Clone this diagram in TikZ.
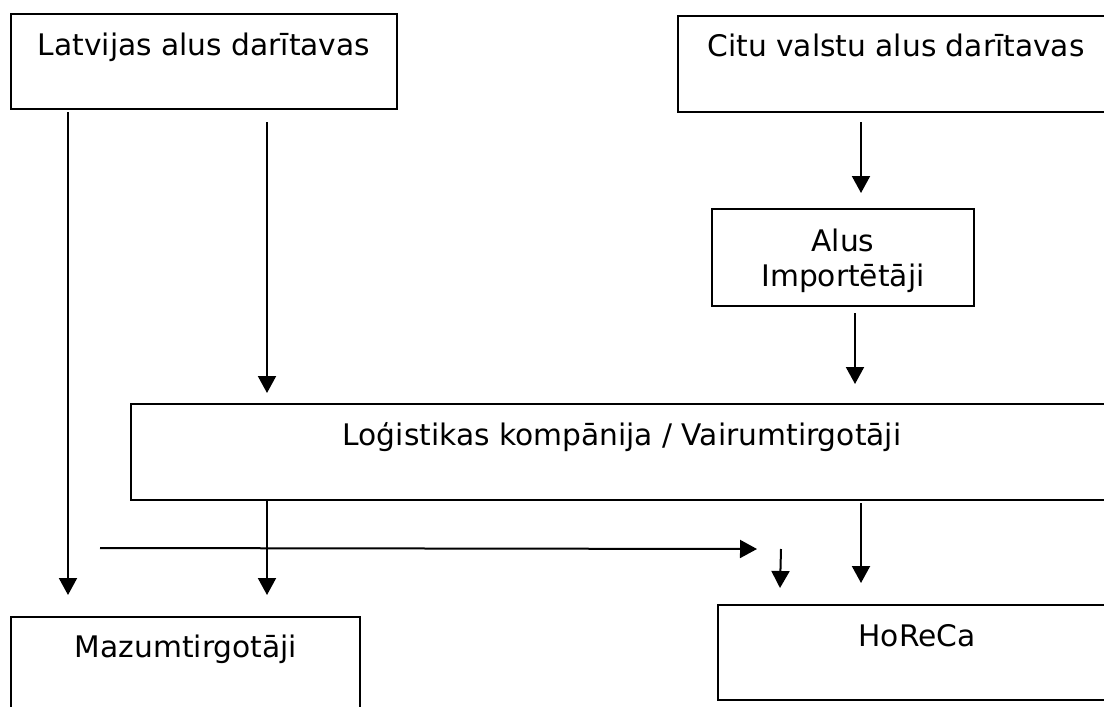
\documentclass[tikz,border=0pt]{standalone}
\usepackage{fontspec}
\setmainfont{DejaVu Sans}
\usetikzlibrary{arrows.meta}
\begin{document}
\begin{tikzpicture}[x=1pt,y=-1pt,
  box/.style={draw, line width=2.1pt, inner sep=0pt, outer sep=0pt},
  txt/.style={font=\fontsize{29.7}{35}\selectfont, inner sep=0pt, anchor=base},
  arr/.style={-{Triangle[length=17pt,width=18pt]}, line width=2pt}]
\useasboundingbox (0,0) rectangle (1104,707);
\clip (0,0) rectangle (1104,707);
\fill[white] (0,0) rectangle (1104,707);
% boxes
\node[box, minimum width=386pt, minimum height=95pt] (lat) at (204,61.5) {};
\node[txt] (latt) at (204,55) {Latvijas alus darītavas};
\node[box, minimum width=436pt, minimum height=96pt] (citu) at (896,64) {};
\node[txt] (situt) at (896,56) {Citu valstu alus darītavas};
\node[box, minimum width=262pt, minimum height=97pt] (alus) at (843,257.5) {};
\node[txt] (alust1) at (843,251) {Alus};
\node[txt] (alust2) at (843,286) {Importētāji};
\node[box, minimum width=982pt, minimum height=96pt] (log) at (622,452) {};
\node[txt] (logt) at (622,445) {Loģistikas kompānija / Vairumtirgotāji};
\node[box, minimum width=349pt, minimum height=95pt] (maz) at (185.5,664.5) {};
\node[txt] (mazt) at (186,657) {Mazumtirgotāji};
\node[box, minimum width=398pt, minimum height=95pt] (hor) at (917,652.5) {};
\node[txt] (hort) at (917,646) {HoReCa};
% column coordinates
\coordinate (xa) at (68,0);
\coordinate (xb) at (267,0);
\coordinate (xc) at (861,0);
\coordinate (xd) at (855,0);
\coordinate (xe) at (861,0);
\coordinate (h1) at (100,548);
\coordinate (h2) at (757,549);
\coordinate (s1) at (781,549);
\coordinate (s2) at (780,588);
% connectors
\draw[arr, shorten <=3pt, shorten >=22pt] (lat.south -| xa) -- (maz.north -| xa);
\draw[arr, shorten <=13pt, shorten >=11pt] (lat.south -| xb) -- (log.north -| xb);
\draw[arr, shorten <=10pt, shorten >=16pt] (citu.south -| xc) -- (alus.north -| xc);
\draw[arr, shorten <=7pt, shorten >=20pt] (alus.south -| xd) -- (log.north -| xd);
\draw[arr, shorten >=22pt] (log.south -| xb) -- (maz.north -| xb);
\draw[arr, shorten <=3pt, shorten >=22pt] (log.south -| xe) -- (hor.north -| xe);
\draw[arr] (h1) -- (h2);
\draw[arr] (s1) -- (s2);
\end{tikzpicture}
\end{document}
